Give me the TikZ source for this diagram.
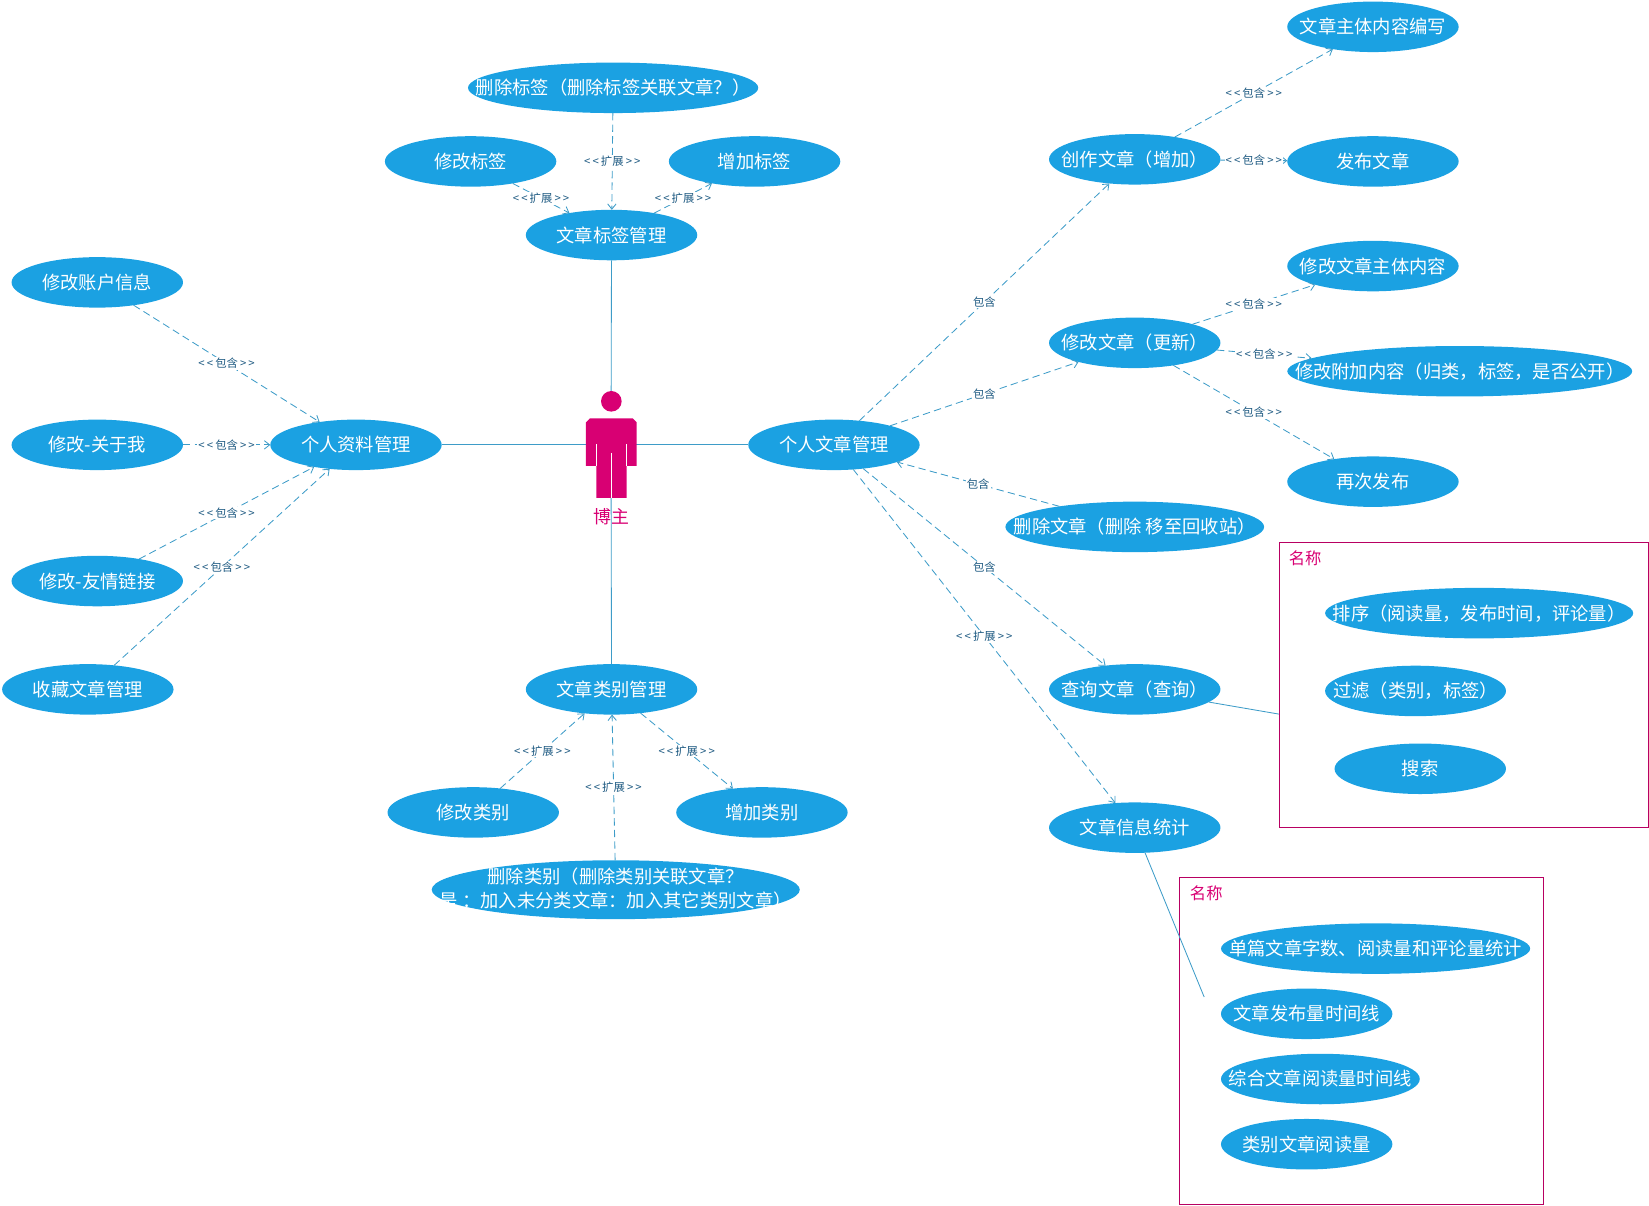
\documentclass[tikz,border=0pt]{standalone}
\usepackage{fontspec}
\setmainfont{Noto Sans CJK SC}
\definecolor{ucblue}{RGB}{27, 161, 226}
\definecolor{actorpink}{RGB}{216, 0, 115}
\definecolor{linkblue}{RGB}{62, 156, 200}
\definecolor{lblblue}{RGB}{30, 90, 130}
\usetikzlibrary{shapes.geometric, arrows.meta, positioning, calc}
\newcommand{\uct}[1]{\makebox[0pt]{\raisebox{-.38em}[0pt][0pt]{#1}}}
\newcommand{\incl}{<\kern2pt<\kern2pt包含\kern2pt>\kern2pt>}
\newcommand{\extd}{<\kern2pt<\kern2pt扩展\kern2pt>\kern2pt>}
\tikzset{
  usecase/.style={ellipse, fill=ucblue, text=white, inner sep=0pt, outer sep=0pt,
    minimum width=163pt, minimum height=48pt, font=\fontsize{17.4}{20}\selectfont},
  assoc/.style={draw=linkblue, line width=0.8pt},
  dep/.style={draw=linkblue, line width=0.8pt, dash pattern=on 7pt off 4pt,
    -{Straight Barb[length=5pt, width=8pt]}},
  lbl/.style={midway, fill=white, inner sep=1pt, text=lblblue, font=\fontsize{10.8}{12}\selectfont},
  groupbox/.style={draw=actorpink!85!black, line width=0.8pt, inner sep=0pt, outer sep=0pt},
  grouptitle/.style={text=actorpink, inner sep=0pt, font=\fontsize{15.5}{18}\selectfont},
}

\begin{document}
\begin{tikzpicture}[x=1pt, y=-1pt]
  \useasboundingbox (0,0) rectangle (1568,1146);

  % groups
  \node[groupbox, minimum width=350.5pt, minimum height=271pt] (sortbox) at (1391.8,651.5) {};
  \node[grouptitle] (sorttitle) at (1241,531) {名称};
  \node[groupbox, minimum width=347pt, minimum height=311pt] (statbox) at (1294.5,989.5) {};
  \node[grouptitle] (stattitle) at (1147,849.5) {名称};
  \coordinate (sortend) at (1216,679);
  \coordinate (statend) at (1145,948);

  % actor
  \node[inner sep=0pt, outer sep=0pt, minimum width=48.2pt, minimum height=101pt] (actor) at (581,423) {};
  \node[text=actorpink, inner sep=0pt, font=\fontsize{17}{20}\selectfont] (actorname) at (581,491) {博主};

  % use cases, top
  \node[usecase, minimum width=276pt] (deltag) at (583,83.5) {\uct{删除标签（删除标签关联文章？）}};
  \node[usecase] (edittag) at (447.5,153.5) {\uct{修改标签}};
  \node[usecase] (addtag) at (717.5,153.5) {\uct{增加标签}};
  \node[usecase] (tagmgr) at (581.5,223.5) {\uct{文章标签管理}};

  % use cases, left
  \node[usecase] (account) at (92.5,268.5) {\uct{修改账户信息}};
  \node[usecase] (about) at (92.5,423) {\uct{修改-关于我}};
  \node[usecase] (friends) at (92.5,552.5) {\uct{修改-友情链接}};
  \node[usecase] (collect) at (83.5,655.5) {\uct{收藏文章管理}};
  \node[usecase] (profile) at (338.5,423) {\uct{个人资料管理}};

  % use cases, bottom
  \node[usecase] (catmgr) at (581.5,655.5) {\uct{文章类别管理}};
  \node[usecase] (editcat) at (450,772.5) {\uct{修改类别}};
  \node[usecase] (addcat) at (724.5,772.5) {\uct{增加类别}};
  \node[usecase, minimum width=350pt, minimum height=56pt] (delcat) at (585.5,846)
    {\makebox[0pt]{\raisebox{-17pt}[0pt][0pt]{\shortstack{删除类别（删除类别关联文章？\\[3pt]是 ：加入未分类文章：加入其它类别文章）}}}};

  % use cases, right
  \node[usecase] (postmgr) at (793,423) {\uct{个人文章管理}};
  \node[usecase] (create) at (1079,151.5) {\uct{创作文章（增加）}};
  \node[usecase] (update) at (1079,326) {\uct{修改文章（更新）}};
  \node[usecase, minimum width=246pt] (delpost) at (1079,501) {\uct{删除文章（删除 移至回收站）}};
  \node[usecase] (query) at (1079,655.5) {\uct{查询文章（查询）}};
  \node[usecase] (stats) at (1079,787) {\uct{文章信息统计}};
  \node[usecase] (write) at (1305.5,25.5) {\uct{文章主体内容编写}};
  \node[usecase] (publish) at (1305.5,153.5) {\uct{发布文章}};
  \node[usecase] (editbody) at (1305.5,253) {\uct{修改文章主体内容}};
  \node[usecase, minimum width=328pt] (editmeta) at (1388,353) {\uct{修改附加内容（归类，标签，是否公开）}};
  \node[usecase] (repost) at (1305.5,458) {\uct{再次发布}};
  \node[usecase, minimum width=293pt] (sorting) at (1406.5,583) {\uct{排序（阅读量，发布时间，评论量）}};
  \node[usecase, minimum width=172pt] (filter) at (1346,657) {\uct{过滤（类别，标签）}};
  \node[usecase] (search) at (1350.5,731) {\uct{搜索}};
  \node[usecase, minimum width=294pt] (single) at (1308,902) {\uct{单篇文章字数、阅读量和评论量统计}};
  \node[usecase] (timeline) at (1242.5,964) {\uct{文章发布量时间线}};
  \node[usecase, minimum width=189pt] (readline) at (1255.5,1026) {\uct{综合文章阅读量时间线}};
  \node[usecase] (catread) at (1242.5,1088) {\uct{类别文章阅读量}};

  % solid links
  \draw[assoc] (actor) -- (tagmgr);
  \draw[assoc] (actor) -- (profile);
  \draw[assoc] (actor) -- (postmgr);
  \draw[assoc] (actor) -- (catmgr);
  \draw[assoc] (query) -- (sortend);
  \draw[assoc] (stats) -- (statend);

  % dashed links
  \draw[dep] (deltag) -- node[lbl] {\extd} (tagmgr);
  \draw[dep] (edittag) -- node[lbl] {\extd} (tagmgr);
  \draw[dep] (tagmgr) -- node[lbl] {\extd} (addtag);
  \draw[dep] (account) -- node[lbl] {\incl} (profile);
  \draw[dep] (about) -- node[lbl] {\incl} (profile);
  \draw[dep] (friends) -- node[lbl] {\incl} (profile);
  \draw[dep] (collect) -- node[lbl] {\incl} (profile);
  \draw[dep] (editcat) -- node[lbl] {\extd} (catmgr);
  \draw[dep] (delcat) -- node[lbl] {\extd} (catmgr);
  \draw[dep] (catmgr) -- node[lbl] {\extd} (addcat);
  \draw[dep] (postmgr) -- node[lbl] {包含} (create);
  \draw[dep] (postmgr) -- node[lbl] {包含} (update);
  \draw[dep] (delpost) -- node[lbl] {包含} (postmgr);
  \draw[dep] (postmgr) -- node[lbl] {包含} (query);
  \draw[dep] (postmgr) -- node[lbl] {\extd} (stats);
  \draw[dep] (create) -- node[lbl] {\incl} (write);
  \draw[dep] (create) -- node[lbl] {\incl} (publish);
  \draw[dep] (update) -- node[lbl] {\incl} (editbody);
  \draw[dep] (update) -- node[lbl] {\incl} (editmeta);
  \draw[dep] (update) -- node[lbl] {\incl} (repost);

  % figure
  \fill[actorpink] (581.3,381.6) circle (9.8);
  \fill[actorpink] (561,397.7) -- (601.5,397.7) -- (605.4,401.6) -- (605.4,443.1) -- (595.9,443.1)
    -- (595.9,473.5) -- (567,473.5) -- (567,443.1) -- (557.2,443.1) -- (557.2,401.6) -- cycle;
  \draw[white, line width=0.6pt] (581.3,430.7) -- (581.3,473.5);
  \draw[white, line width=0.6pt] (567,422.2) -- (567,443.1);
  \draw[white, line width=0.6pt] (595.9,422.2) -- (595.9,443.1);
\end{tikzpicture}
\end{document}
